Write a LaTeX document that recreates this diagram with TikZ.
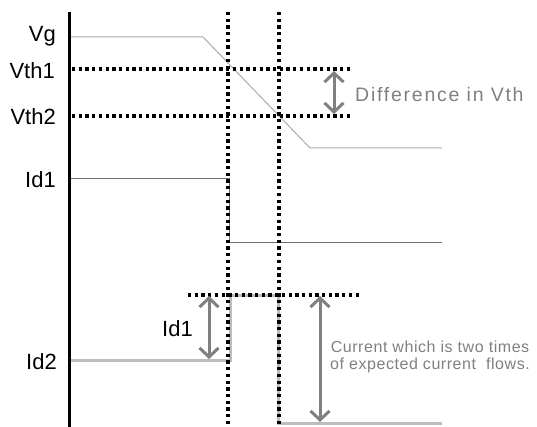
\documentclass[tikz,border=0pt]{standalone}
\usepackage{fontspec}
\setmainfont{Liberation Sans}
\usetikzlibrary{arrows.meta}
\definecolor{vgcol}{HTML}{AAAAAA}
\definecolor{idonecol}{HTML}{707070}
\definecolor{idtwocol}{HTML}{BDBDBD}
\definecolor{notecol}{HTML}{808080}
\newfontfamily\notefont[LetterSpace=9]{Liberation Sans}
\newfontfamily\smallnotefont[LetterSpace=3.5]{Liberation Sans}
\tikzset{
  axisline/.style={line width=3pt, black},
  dotline/.style={black, line width=3.2pt, dash pattern=on 3.3pt off 3.4pt},
  vgline/.style={vgcol, line width=1pt},
  idoneline/.style={idonecol, line width=1pt},
  idtwoline/.style={idtwocol, line width=3pt},
  dimarrow/.style={notecol, line width=3pt,
    {Straight Barb[length=9pt,width=19pt]}-{Straight Barb[length=9pt,width=19pt]}},
  siglabel/.style={anchor=east, inner sep=0pt, font=\fontsize{22}{24}\selectfont},
}
\begin{document}
\begin{tikzpicture}[x=1pt, y=-1pt]
  \useasboundingbox (0,0) rectangle (537,427);

  % signal names
  \node[siglabel] (lvg)   at (56,36)  {Vg};
  \node[siglabel] (lvth1) at (55,71)  {Vth1};
  \node[siglabel] (lvth2) at (56,117) {Vth2};
  \node[siglabel] (lid1)  at (56,180) {Id1};
  \node[siglabel] (lid2)  at (57,362) {Id2};

  % time axis
  \coordinate (axtop) at (69.5,12);
  \coordinate (axbot) at (69.5,427);
  \draw[axisline] (axtop) -- (axbot);

  % gate voltage
  \draw[vgline] (71,37) -- (203,37) -- (310,148) -- (442,148);

  % expected drain current
  \draw[idoneline] (71,179) -- (229,179) -- (229,243) -- (442,243);

  % actual drain current
  \draw[idtwoline] (71,360) -- (230,360) -- (230,295) -- (278,295) -- (278,423) -- (442,423);

  % threshold levels
  \coordinate (vth1a) at (72,69);
  \coordinate (vth1b) at (352,69);
  \coordinate (vth2a) at (72,116);
  \coordinate (vth2b) at (352,116);
  \draw[dotline] (vth1a) -- (vth1b);
  \draw[dotline] (vth2a) -- (vth2b);

  % switching instants
  \coordinate (t1top) at (228,12);
  \coordinate (t1bot) at (228,427);
  \coordinate (t2top) at (279,12);
  \coordinate (t2bot) at (279,427);
  \draw[dotline] (t1top) -- (t1bot);
  \draw[dotline] (t2top) -- (t2bot);

  % peak current level
  \coordinate (pka) at (188,295);
  \coordinate (pkb) at (361,295);
  \draw[dotline] (pka) -- (pkb);

  % threshold difference
  \coordinate (dvtop) at (334,71);
  \coordinate (dvbot) at (334,114);
  \draw[dimarrow] (dvtop) -- (dvbot);
  \node[anchor=base west, inner sep=0pt, text=notecol,
        font=\notefont\fontsize{19.5}{22}\selectfont] (dvtext) at (355,102) {Difference in Vth};

  % Id1 step
  \coordinate (idtop) at (209,296);
  \coordinate (idbot) at (209,359);
  \draw[dimarrow] (idtop) -- (idbot);
  \node[anchor=east, inner sep=0pt, font=\fontsize{22}{24}\selectfont] (idtext) at (193,329) {Id1};

  % overcurrent
  \coordinate (octop) at (320,296);
  \coordinate (ocbot) at (320,422);
  \draw[dimarrow] (octop) -- (ocbot);
  \node[anchor=center, inner sep=0pt, align=center, text=notecol,
        font=\smallnotefont\fontsize{16}{17}\selectfont] (octext) at (430,357)
        {Current which is two times\\ of expected current\ \ flows.};
\end{tikzpicture}
\end{document}
